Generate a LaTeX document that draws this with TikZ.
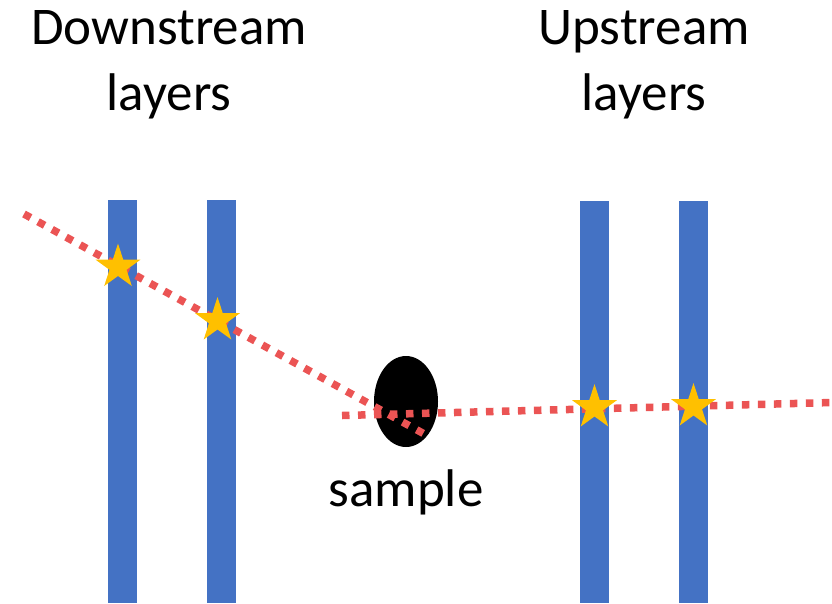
\documentclass[tikz,border=0pt]{standalone}
\usepackage{fontspec}
\setmainfont{Carlito}
\usetikzlibrary{shapes.geometric}
\definecolor{layerblue}{RGB}{68,114,196}
\definecolor{hitgold}{RGB}{255,192,0}
\definecolor{trackred}{RGB}{235,84,84}
\tikzset{
  layerbar/.style={fill=layerblue, draw=none},
  hitstar/.style={star, star points=5, star point ratio=2.618, fill=hitgold, draw=none,
    inner sep=0pt, minimum size=47pt},
  track/.style={draw=trackred, line width=7.5pt, dash pattern=on 7.5pt off 8.5pt},
  caption/.style={font=\fontsize{53}{66}\selectfont, inner sep=0pt, anchor=base}
}
\begin{document}
\begin{tikzpicture}[x=1pt, y=-1pt]
  \useasboundingbox (0,0) rectangle (832,603);

  % detector layers
  \fill[layerbar] (108,200) rectangle (137,603);
  \fill[layerbar] (207,200) rectangle (236,603);
  \fill[layerbar] (580,201) rectangle (609,603);
  \fill[layerbar] (679,201) rectangle (708,603);

  % sample
  \node[ellipse, fill=black, inner sep=0pt, minimum width=64pt, minimum height=91pt]
    (sample) at (406,401.5) {};

  % particle tracks
  \coordinate (inA) at (24,214);
  \coordinate (inB) at (428,436);
  \coordinate (outA) at (342,415.5);
  \coordinate (outB) at (832,402.5);
  \draw[track] (inA) -- (inB);
  \draw[track] (outA) -- (outB);

  % hits
  \node[hitstar] (h1) at (118,267) {};
  \node[hitstar] (h2) at (217.5,320.5) {};
  \node[hitstar] (h3) at (594.5,407.5) {};
  \node[hitstar] (h4) at (693.5,406.5) {};

  % labels
  \node[caption] (down1) at (169,44) {Downstream};
  \node[caption] (down2) at (169,110) {layers};
  \node[caption] (up1) at (644,44) {Upstream};
  \node[caption] (up2) at (644,110) {layers};
  \node[caption] (samplelabel) at (406,506) {sample};
\end{tikzpicture}
\end{document}
